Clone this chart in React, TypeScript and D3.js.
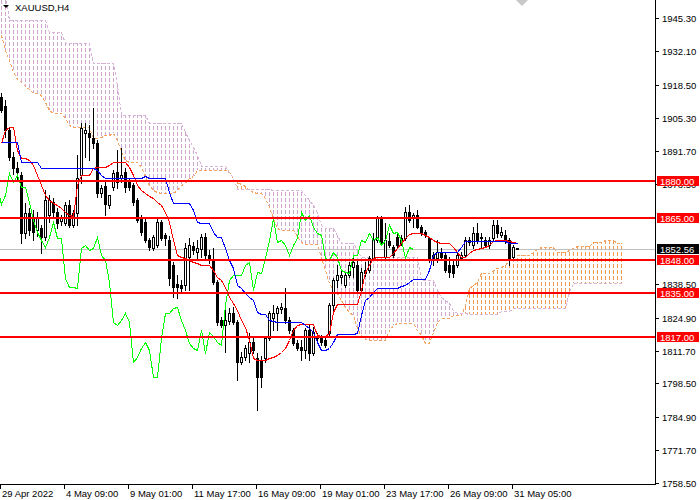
import * as d3 from "d3"
import { useEffect, useRef } from "react"

const symbolTitle = "XAUUSD,H4"

// H4 candles, oldest first (bar 0 = 29 Apr 2022 00:00)
const open = [
    1913.6, 1909.9, 1900.3, 1889.5, 1885.0, 1882.2, 1858.9, 1866.9, 1864.9, 1860.1,
    1860.9, 1857.3, 1866.1, 1871.4, 1867.4, 1863.7, 1862.9, 1870.2, 1862.1, 1867.0,
    1882.2, 1899.1, 1899.1, 1897.1, 1895.1, 1875.0, 1877.8, 1870.2, 1877.4, 1883.4,
    1881.0, 1883.4, 1880.2, 1878.2, 1872.2, 1864.9, 1863.3, 1856.1, 1852.9, 1854.1,
    1863.3, 1858.1, 1856.1, 1846.1, 1838.4, 1838.0, 1838.0, 1849.3, 1853.7, 1851.3,
    1852.5, 1857.3, 1850.1, 1848.1, 1839.2, 1824.0, 1821.9, 1823.6, 1826.8, 1823.2,
    1807.1, 1809.1, 1810.7, 1815.1, 1808.7, 1807.9, 1808.7, 1816.7, 1824.8, 1826.8,
    1828.4, 1828.8, 1824.0, 1819.9, 1814.7, 1813.1, 1811.9, 1819.9, 1810.7, 1816.7,
    1816.7, 1815.9, 1818.7, 1830.0, 1840.0, 1841.2, 1838.0, 1842.0, 1845.3, 1846.1,
    1836.0, 1844.0, 1844.0, 1848.9, 1856.1, 1864.9, 1849.3, 1855.7, 1853.3, 1857.3,
    1854.9, 1856.9, 1867.4, 1864.9, 1866.1, 1861.3, 1859.3, 1856.9, 1850.1, 1848.9,
    1851.3, 1850.1, 1846.1, 1846.1, 1846.1, 1848.9, 1850.1, 1856.1, 1854.1, 1858.9,
    1856.9, 1856.1, 1854.1, 1856.9, 1862.1, 1858.1, 1858.1, 1856.1, 1849.3, 1852.9,
]
const high = [
    1915.2, 1912.4, 1901.5, 1891.5, 1887.4, 1883.4, 1871.0, 1869.0, 1868.2, 1867.4,
    1862.1, 1876.2, 1874.2, 1873.0, 1869.0, 1866.1, 1871.4, 1872.2, 1868.2, 1890.3,
    1903.1, 1903.1, 1902.3, 1909.1, 1896.3, 1878.2, 1879.4, 1874.2, 1884.2, 1892.3,
    1893.1, 1885.0, 1881.0, 1879.0, 1873.0, 1866.1, 1864.9, 1856.9, 1858.1, 1864.9,
    1864.1, 1858.9, 1857.7, 1847.3, 1842.0, 1840.0, 1854.9, 1856.9, 1855.3, 1856.1,
    1858.5, 1858.9, 1852.1, 1852.9, 1840.0, 1825.2, 1829.2, 1828.8, 1829.2, 1824.0,
    1811.1, 1813.9, 1818.7, 1816.7, 1810.7, 1809.5, 1817.5, 1827.6, 1830.0, 1829.6,
    1830.8, 1836.8, 1825.2, 1820.7, 1815.9, 1815.9, 1820.7, 1821.9, 1821.1, 1818.7,
    1817.9, 1817.1, 1830.8, 1840.8, 1846.1, 1844.0, 1843.2, 1847.3, 1848.9, 1848.1,
    1844.9, 1847.3, 1849.7, 1858.9, 1865.7, 1865.7, 1862.9, 1858.9, 1854.1, 1858.9,
    1858.1, 1869.4, 1870.2, 1866.9, 1868.2, 1862.1, 1860.1, 1857.3, 1851.3, 1856.1,
    1852.9, 1850.9, 1849.3, 1848.1, 1850.9, 1851.3, 1857.3, 1857.3, 1861.3, 1862.9,
    1858.9, 1857.3, 1857.3, 1864.1, 1864.1, 1861.3, 1860.1, 1856.9, 1854.1, 1852.9,
]
const low = [
    1907.5, 1897.5, 1888.2, 1882.6, 1880.2, 1854.9, 1856.9, 1858.1, 1856.1, 1857.7,
    1850.9, 1856.1, 1863.3, 1864.9, 1860.9, 1862.1, 1862.1, 1861.3, 1861.3, 1862.1,
    1879.0, 1889.5, 1888.2, 1893.1, 1873.4, 1873.4, 1866.1, 1869.0, 1876.2, 1877.0,
    1879.4, 1875.4, 1876.2, 1870.2, 1863.3, 1858.1, 1855.3, 1852.1, 1852.1, 1853.3,
    1856.1, 1854.1, 1838.0, 1833.2, 1832.8, 1835.2, 1836.0, 1836.0, 1850.5, 1848.1,
    1849.3, 1848.1, 1846.9, 1838.4, 1821.9, 1821.1, 1811.1, 1822.4, 1822.4, 1799.9,
    1806.3, 1807.9, 1807.1, 1810.7, 1787.8, 1797.0, 1807.1, 1815.9, 1819.9, 1819.9,
    1826.8, 1822.8, 1818.7, 1813.9, 1811.9, 1807.9, 1808.7, 1807.9, 1809.9, 1815.5,
    1813.9, 1813.1, 1817.9, 1826.8, 1837.2, 1838.8, 1837.2, 1841.2, 1841.2, 1835.2,
    1835.2, 1841.6, 1843.2, 1848.1, 1855.3, 1854.1, 1848.5, 1853.3, 1849.3, 1853.3,
    1854.1, 1856.1, 1863.3, 1861.3, 1860.9, 1858.1, 1857.3, 1847.3, 1846.1, 1847.3,
    1848.1, 1843.2, 1841.2, 1841.2, 1845.3, 1848.1, 1849.3, 1854.1, 1852.9, 1854.9,
    1853.3, 1853.3, 1852.9, 1856.1, 1857.3, 1857.3, 1854.9, 1846.1, 1848.9, 1852.5,
]
const close = [
    1908.3, 1900.3, 1889.5, 1885.0, 1883.4, 1858.9, 1866.9, 1860.1, 1859.3, 1864.9,
    1857.3, 1872.2, 1872.2, 1867.4, 1862.9, 1864.9, 1870.2, 1862.1, 1867.0, 1881.0,
    1901.1, 1900.3, 1897.5, 1895.1, 1875.0, 1877.0, 1870.6, 1874.2, 1883.0, 1879.4,
    1882.2, 1877.4, 1877.4, 1871.4, 1864.1, 1859.3, 1856.1, 1853.3, 1857.3, 1863.3,
    1856.9, 1856.9, 1840.8, 1837.2, 1837.2, 1836.8, 1852.9, 1854.1, 1852.1, 1852.9,
    1857.3, 1850.1, 1848.1, 1839.2, 1823.2, 1821.9, 1824.0, 1826.8, 1823.2, 1807.1,
    1809.1, 1812.7, 1815.1, 1811.9, 1801.1, 1801.1, 1816.7, 1826.8, 1826.8, 1828.8,
    1829.2, 1824.0, 1819.9, 1814.7, 1812.7, 1811.9, 1819.9, 1810.7, 1819.1, 1817.5,
    1815.1, 1813.9, 1830.0, 1840.0, 1842.0, 1842.0, 1842.0, 1846.1, 1847.3, 1836.0,
    1843.2, 1842.8, 1848.9, 1856.1, 1864.9, 1855.3, 1856.1, 1854.1, 1850.1, 1854.1,
    1856.9, 1867.4, 1864.1, 1866.1, 1861.3, 1858.9, 1858.1, 1848.9, 1848.1, 1851.3,
    1849.3, 1844.0, 1843.2, 1842.8, 1850.1, 1850.1, 1856.1, 1855.3, 1858.9, 1856.1,
    1857.3, 1854.1, 1856.1, 1862.1, 1858.9, 1859.3, 1856.1, 1848.9, 1853.3, 1852.56,
]

// Ichimoku Tenkan-sen (red) and Kijun-sen (blue), one value per bar
const tenkan = [
    1895.1, 1900.3, 1901.5, 1901.5, 1892.3, 1889.0, 1889.0, 1888.2, 1886.2, 1882.2,
    1878.2, 1874.2, 1872.2, 1871.0, 1870.2, 1869.0, 1867.4, 1866.1, 1865.7, 1878.2,
    1882.2, 1882.2, 1882.2, 1885.0, 1885.4, 1885.4, 1885.4, 1886.2, 1887.4, 1887.4,
    1887.4, 1887.4, 1885.4, 1882.2, 1878.2, 1876.2, 1875.0, 1873.8, 1873.0, 1871.4,
    1870.2, 1867.4, 1863.3, 1856.1, 1850.1, 1849.3, 1848.9, 1848.1, 1847.3, 1846.9,
    1846.1, 1846.1, 1846.1, 1844.0, 1841.2, 1840.0, 1837.2, 1833.2, 1830.8, 1828.0,
    1824.0, 1821.1, 1815.9, 1808.7, 1807.9, 1807.9, 1807.9, 1808.7, 1809.1, 1809.9,
    1811.1, 1812.7, 1815.9, 1819.9, 1821.9, 1822.4, 1822.4, 1822.4, 1822.4, 1817.9,
    1817.5, 1817.5, 1818.7, 1827.2, 1830.4, 1830.4, 1830.4, 1830.4, 1830.4, 1830.4,
    1836.0, 1843.2, 1846.1, 1848.9, 1849.3, 1849.3, 1849.3, 1849.3, 1850.9, 1852.9,
    1854.9, 1856.9, 1858.5, 1858.9, 1858.9, 1858.9, 1858.1, 1857.3, 1856.1, 1855.3,
    1854.9, 1854.9, 1854.9, 1853.3, 1851.3, 1849.3, 1849.3, 1850.9, 1852.1, 1852.5,
    1852.9, 1853.3, 1854.1, 1855.7, 1856.1, 1856.1, 1856.1, 1855.7, 1855.3, 1854.9,
]
const kijun = [
    1895.5, 1895.5, 1895.5, 1895.5, 1895.5, 1887.4, 1887.4, 1887.4, 1887.4, 1887.4,
    1885.0, 1885.0, 1885.0, 1885.0, 1885.0, 1885.0, 1885.0, 1885.0, 1885.0, 1885.0,
    1885.0, 1885.0, 1885.0, 1885.0, 1884.2, 1882.2, 1881.0, 1881.0, 1881.0, 1881.0,
    1881.0, 1881.0, 1881.0, 1881.0, 1881.0, 1881.0, 1881.8, 1881.0, 1881.0, 1881.0,
    1881.0, 1881.0, 1875.4, 1871.0, 1871.0, 1871.0, 1871.0, 1871.0, 1868.2, 1863.3,
    1862.9, 1862.9, 1862.9, 1859.3, 1857.3, 1857.3, 1852.9, 1848.1, 1844.9, 1838.0,
    1836.8, 1834.8, 1833.2, 1832.0, 1827.2, 1826.4, 1826.4, 1824.0, 1823.6, 1823.2,
    1823.2, 1823.2, 1823.2, 1823.2, 1823.2, 1823.2, 1821.9, 1820.7, 1819.1, 1815.1,
    1811.9, 1811.9, 1812.7, 1815.1, 1818.3, 1818.3, 1818.3, 1818.3, 1818.3, 1818.7,
    1826.0, 1832.0, 1833.2, 1835.2, 1836.8, 1836.8, 1836.8, 1836.8, 1836.8, 1836.8,
    1837.6, 1838.0, 1839.2, 1840.4, 1840.4, 1840.4, 1840.4, 1844.0, 1850.1, 1851.3,
    1851.3, 1851.3, 1851.3, 1851.3, 1851.3, 1853.3, 1855.7, 1855.7, 1855.7, 1855.7,
    1855.7, 1855.7, 1855.7, 1855.7, 1855.7, 1855.7, 1855.7, 1854.9, 1854.9, 1854.9,
]

// Senkou spans as plotted (already shifted 26 bars ahead), starting at bar 0
const spanA = [
    1938.5, 1932.4, 1928.4, 1923.6, 1920.8, 1919.6, 1918.0, 1916.8, 1915.2, 1915.2,
    1914.4, 1911.5, 1908.3, 1907.1, 1907.1, 1907.1, 1905.1, 1902.3, 1901.5, 1901.5,
    1901.5, 1901.5, 1901.5, 1897.1, 1897.1, 1897.5, 1898.3, 1898.3, 1899.1, 1896.3,
    1891.5, 1888.2, 1887.4, 1887.4, 1887.4, 1885.4, 1881.8, 1878.2, 1876.2, 1875.4,
    1875.0, 1875.0, 1875.0, 1875.0, 1876.2, 1878.2, 1879.0, 1881.0, 1881.8, 1884.2,
    1884.2, 1884.2, 1884.2, 1884.2, 1884.2, 1884.2, 1884.2, 1883.4, 1881.0, 1879.4,
    1878.6, 1877.8, 1876.2, 1875.4, 1875.0, 1875.0, 1873.0, 1869.4, 1864.9, 1860.9,
    1860.1, 1860.1, 1860.1, 1860.1, 1857.7, 1855.3, 1854.5, 1854.5, 1854.5, 1854.5,
    1848.9, 1844.0, 1838.8, 1836.0, 1834.8, 1832.0, 1829.2, 1827.2, 1826.0, 1820.7,
    1817.5, 1816.3, 1815.9, 1815.9, 1815.9, 1815.9, 1815.9, 1819.9, 1821.9, 1822.8,
    1822.8, 1822.8, 1822.8, 1822.8, 1819.9, 1817.9, 1814.7, 1814.7, 1819.1, 1823.2,
    1824.8, 1824.8, 1824.8, 1826.0, 1826.0, 1826.0, 1830.0, 1836.8, 1838.0, 1839.2,
    1842.8, 1842.8, 1842.8, 1844.0, 1844.9, 1845.3, 1846.1, 1848.1, 1849.3, 1850.1,
    1850.1, 1850.1, 1850.1, 1851.3, 1852.5, 1853.3, 1853.3, 1853.3, 1853.3, 1851.3,
    1851.3, 1851.3, 1852.1, 1852.9, 1853.7, 1853.7, 1853.7, 1853.7, 1855.3, 1855.3,
    1855.3, 1856.1, 1856.1, 1856.1, 1854.9, 1854.9,
]
const spanB = [
    1954.5, 1954.5, 1944.5, 1944.5, 1944.5, 1944.5, 1944.5, 1944.5, 1944.5, 1944.5,
    1944.5, 1944.5, 1939.7, 1939.7, 1939.7, 1939.7, 1935.3, 1935.3, 1935.3, 1935.3,
    1935.3, 1935.3, 1935.3, 1927.2, 1927.2, 1927.2, 1927.2, 1927.2, 1927.2, 1918.4,
    1906.3, 1906.3, 1906.3, 1906.3, 1906.3, 1906.3, 1906.3, 1903.1, 1903.1, 1903.1,
    1903.1, 1903.1, 1903.1, 1903.1, 1903.1, 1903.1, 1899.5, 1896.3, 1893.5, 1890.3,
    1885.8, 1885.8, 1885.8, 1885.8, 1885.8, 1885.8, 1885.8, 1883.4, 1881.0, 1876.6,
    1876.6, 1876.6, 1876.6, 1876.6, 1876.6, 1876.6, 1876.6, 1876.6, 1876.2, 1876.2,
    1876.2, 1876.2, 1876.2, 1876.2, 1876.2, 1876.2, 1874.2, 1872.2, 1870.2, 1867.4,
    1862.1, 1860.9, 1860.9, 1860.9, 1858.1, 1854.9, 1854.9, 1854.9, 1854.9, 1852.1,
    1849.3, 1849.3, 1849.3, 1849.3, 1849.3, 1849.3, 1849.3, 1849.3, 1849.3, 1849.3,
    1849.3, 1849.3, 1849.3, 1849.3, 1849.3, 1840.0, 1840.0, 1840.0, 1840.0, 1836.0,
    1833.2, 1832.0, 1830.8, 1828.0, 1826.8, 1826.8, 1826.8, 1826.4, 1826.4, 1826.4,
    1826.4, 1826.4, 1826.4, 1826.4, 1826.4, 1827.6, 1827.6, 1827.6, 1828.8, 1828.8,
    1828.8, 1828.8, 1828.8, 1828.8, 1828.8, 1828.8, 1828.8, 1828.8, 1828.8, 1828.8,
    1828.8, 1828.8, 1835.2, 1838.8, 1838.8, 1838.8, 1838.8, 1838.8, 1838.8, 1838.8,
    1838.8, 1838.8, 1838.8, 1838.8, 1838.8, 1838.8,
]
const kumoShift = 26

const levels = [1880, 1865, 1848, 1835, 1817]
const lastPrice = 1852.56
// 1865.30 and 1851.70 sit fully under the price tags, so they are left out
const priceTicks = [
    1945.3, 1932.1, 1918.5, 1905.3, 1891.7, 1878.5,
    1838.5, 1824.9, 1811.7, 1798.5, 1784.9, 1771.7, 1758.5,
]
const timeTickBars = [0, 16, 32, 48, 64, 80, 96, 112, 128]
const timeTickLabels = [
    "29 Apr 2022", "4 May 09:00", "9 May 01:00", "11 May 17:00", "16 May 09:00",
    "19 May 01:00", "23 May 17:00", "26 May 09:00", "31 May 05:00",
]

const width = 700
const height = 500
const plotW = 655
const plotH = 484
const font = "Tahoma, 'Liberation Sans', Arial, sans-serif"

export default function App() {
    const svgRef = useRef<SVGSVGElement>(null)

    useEffect(() => {
        if (!svgRef.current) return
        const svg = d3.select(svgRef.current)
        svg.selectAll("*").remove()

        // 4 px per bar, bar 0 centred at x=1
        const x = d3.scaleLinear().domain([-0.25, 163.5]).range([0, plotW])
        const y = d3.scaleLinear().domain([1758.1, 1952.53]).range([plotH, 0])
        const px = (i: number) => Math.round(x(i))
        const py = (v: number) => Math.round(y(v))

        svg.append("rect").attr("width", width).attr("height", height).attr("fill", "#fff")
        svg.append("defs").append("clipPath").attr("id", "plot")
            .append("rect").attr("width", plotW).attr("height", plotH)

        const g = svg.append("g").attr("clip-path", "url(#plot)")

        // kumo hatching, one dotted column per bar
        const kumo = g.append("g").attr("shape-rendering", "crispEdges")
        spanA.forEach((a, j) => {
            const b = spanB[j]
            const y1 = py(Math.max(a, b))
            const y2 = py(Math.min(a, b))
            kumo.append("line")
                .attr("x1", px(j) + 0.5).attr("x2", px(j) + 0.5)
                .attr("y1", y1).attr("y2", y2)
                .attr("stroke", a >= b ? "#F29A52" : "#CFA6CF")
                .attr("stroke-dasharray", "4,2")
                .attr("stroke-dashoffset", ((y1 % 6) + 6) % 6)
        })

        const line = (shift: number) => d3.line<number>()
            .x((_, i) => px(i + shift) + 0.5)
            .y((d) => py(d) + 0.5)

        const lines = g.append("g").attr("shape-rendering", "crispEdges")
        lines.append("path").datum(spanA).attr("d", line(0)).attr("fill", "none")
            .attr("stroke", "#F4A460").attr("stroke-dasharray", "3,2")
        lines.append("path").datum(spanB).attr("d", line(0)).attr("fill", "none")
            .attr("stroke", "#D8B4D8").attr("stroke-dasharray", "3,2")

        // current price line
        lines.append("line").attr("x1", 0).attr("x2", plotW)
            .attr("y1", py(lastPrice) + 0.5).attr("y2", py(lastPrice) + 0.5)
            .attr("stroke", "#C0C0C0")

        // candles
        const cg = g.append("g").attr("shape-rendering", "crispEdges")
        open.forEach((o, i) => {
            const c = close[i]
            const cx = px(i)
            const top = py(Math.max(o, c))
            const bot = py(Math.min(o, c))
            cg.append("line")
                .attr("x1", cx + 0.5).attr("x2", cx + 0.5)
                .attr("y1", py(high[i])).attr("y2", py(low[i]) + 1)
                .attr("stroke", "#000")
            if (c > o) {
                cg.append("rect")
                    .attr("x", cx - 0.5).attr("y", top + 0.5)
                    .attr("width", 2).attr("height", Math.max(bot - top, 1))
                    .attr("fill", "#fff").attr("stroke", "#000")
            } else {
                cg.append("rect")
                    .attr("x", cx - 1).attr("y", top)
                    .attr("width", 3).attr("height", Math.max(bot - top + 1, 1))
                    .attr("fill", "#000")
            }
        })

        // chikou, tenkan, kijun
        const ind = g.append("g").attr("shape-rendering", "crispEdges")
        ind.append("path").datum(close).attr("d", line(-kumoShift)).attr("fill", "none").attr("stroke", "#00FF00")
        ind.append("path").datum(tenkan).attr("d", line(0)).attr("fill", "none").attr("stroke", "#FF0000")
        ind.append("path").datum(kijun).attr("d", line(0)).attr("fill", "none").attr("stroke", "#0000FF")

        // horizontal levels
        levels.forEach((v) => {
            ind.append("line").attr("x1", 0).attr("x2", plotW)
                .attr("y1", py(v)).attr("y2", py(v))
                .attr("stroke", "#FF0000").attr("stroke-width", 2)
        })

        // axes
        const ax = svg.append("g").attr("shape-rendering", "crispEdges")
        ax.append("line").attr("x1", plotW + 0.5).attr("x2", plotW + 0.5).attr("y1", 0).attr("y2", plotH + 1).attr("stroke", "#000")
        ax.append("line").attr("x1", 0).attr("x2", plotW + 1).attr("y1", plotH + 0.5).attr("y2", plotH + 0.5).attr("stroke", "#000")

        priceTicks.forEach((p) => {
            const ty = py(p)
            ax.append("line").attr("x1", plotW).attr("x2", plotW + 4)
                .attr("y1", ty + 0.5).attr("y2", ty + 0.5).attr("stroke", "#000")
            svg.append("text").attr("x", plotW + 7).attr("y", ty + 4)
                .attr("font-family", font).attr("font-size", 9.5).attr("fill", "#000")
                .text(p.toFixed(2))
        })

        timeTickBars.forEach((b, k) => {
            const tx = px(b) - 0.5
            ax.append("line").attr("x1", tx).attr("x2", tx)
                .attr("y1", plotH).attr("y2", plotH + 5).attr("stroke", "#000")
            svg.append("text").attr("x", tx + 1.5).attr("y", plotH + 13)
                .attr("font-family", font).attr("font-size", 9.5).attr("fill", "#000")
                .text(timeTickLabels[k])
        })

        // price tags on the axis
        const tag = (v: number, fill: string, label: string) => {
            const ty = py(v)
            svg.append("rect").attr("x", plotW + 2).attr("y", ty - 5)
                .attr("width", 42).attr("height", 10).attr("fill", fill)
            svg.append("text").attr("x", plotW + 5).attr("y", ty + 3.5)
                .attr("font-family", font).attr("font-size", 9.5).attr("fill", "#fff")
                .text(label)
        }
        levels.forEach((v) => tag(v, "#FF0000", v.toFixed(2)))
        tag(lastPrice, "#000", lastPrice.toFixed(2))

        // title
        svg.append("path").attr("d", "M3,5L9,5L6,8Z").attr("fill", "#000")
        svg.append("text").attr("x", 15).attr("y", 11)
            .attr("font-family", font).attr("font-size", 9.5).attr("fill", "#000")
            .text(symbolTitle)
        svg.append("path").attr("d", "M516,0L528,0L522,6Z").attr("fill", "#C8C8C8")
    }, [])

    return (
        <div style={{ position: "absolute", left: 0, top: 0 }}>
            <svg ref={svgRef} width={width} height={height} viewBox={`0 0 ${width} ${height}`} style={{ display: "block" }} />
        </div>
    )
}
